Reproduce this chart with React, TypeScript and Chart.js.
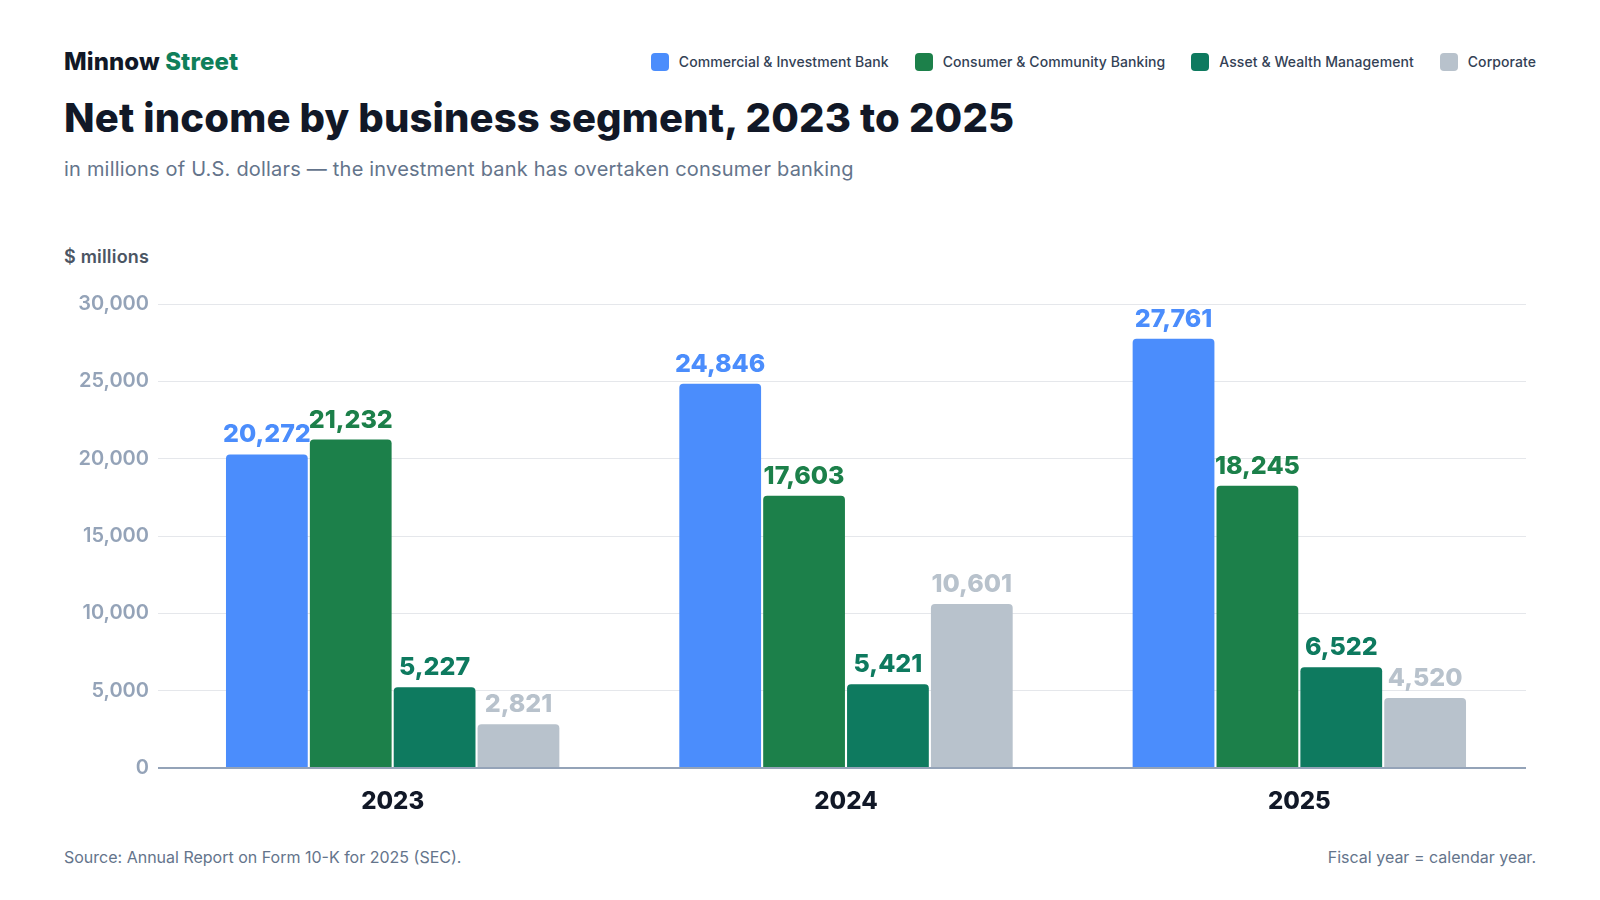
import React, { useEffect, useRef } from "react";
import { Chart, registerables } from "chart.js";

Chart.register(...registerables);

const categories = ["2023", "2024", "2025"];
const seriesNames = [
  "Commercial & Investment Bank",
  "Consumer & Community Banking",
  "Asset & Wealth Management",
  "Corporate",
];
const cibValues = [20272, 24846, 27761];
const ccbValues = [21232, 17603, 18245];
const awmValues = [5227, 5421, 6522];
const corpValues = [2821, 10601, 4520];
const seriesColors = ["#4b8dfc", "#1c804a", "#0e7a5f", "#b8c2cc"];
const yMax = 30000;
const yStep = 5000;

const FONT = "Inter, 'Noto Sans', sans-serif";

const fmt = (v: number) => v.toLocaleString("en-US");

const barLabels = {
  id: "barLabels",
  afterDatasetsDraw(chart: any) {
    const ctx = chart.ctx;
    ctx.save();
    ctx.font = `800 25px ${FONT}`;
    ctx.textAlign = "center";
    ctx.textBaseline = "alphabetic";
    chart.data.datasets.forEach((ds: any, di: number) => {
      const meta = chart.getDatasetMeta(di);
      meta.data.forEach((bar: any, i: number) => {
        ctx.fillStyle = ds.backgroundColor;
        ctx.fillText(fmt(ds.data[i]), bar.x, bar.y - 12);
      });
    });
    ctx.restore();
  },
};

export default function App() {
  const ref = useRef<HTMLCanvasElement>(null);

  useEffect(() => {
    document.body.style.margin = "0";
    const allValues = [cibValues, ccbValues, awmValues, corpValues];
    const chart = new Chart(ref.current!, {
      type: "bar",
      data: {
        labels: categories,
        datasets: allValues.map((vals, i) => ({
          label: seriesNames[i],
          data: vals,
          backgroundColor: seriesColors[i],
          borderRadius: { topLeft: 4, topRight: 4, bottomLeft: 0, bottomRight: 0 },
          borderSkipped: "bottom",
          categoryPercentage: 0.74,
          barPercentage: 0.975,
        })),
      },
      options: {
        animation: false,
        responsive: false,
        devicePixelRatio: 1,
        layout: { padding: { top: 33, right: 74, left: 0, bottom: 0 } },
        plugins: {
          legend: { display: false },
          tooltip: { enabled: false },
          title: { display: false },
        },
        scales: {
          x: {
            grid: { display: false },
            border: { display: false },
            ticks: {
              color: "#111827",
              font: { family: FONT, size: 24, weight: "800" },
              padding: 11,
            },
            afterFit: (s: any) => {
              s.height = 63;
            },
          },
          y: {
            min: 0,
            max: yMax,
            border: { display: false },
            grid: {
              color: (c: any) => (c.tick && c.tick.value === 0 ? "#94a3b8" : "#e5e7eb"),
              lineWidth: (c: any) => (c.tick && c.tick.value === 0 ? 2 : 1),
              drawTicks: true,
              tickLength: 8,
            },
            ticks: {
              stepSize: yStep,
              color: "#94a3b8",
              font: { family: FONT, size: 20, weight: "600" },
              padding: 9,
              callback: (v: any) => fmt(Number(v)),
            },
            afterFit: (s: any) => {
              s.width = 166;
            },
          },
        },
      },
      plugins: [barLabels],
    });
    return () => chart.destroy();
  }, []);

  return (
    <div
      style={{
        position: "absolute",
        left: 0,
        top: 0,
        width: 1600,
        height: 900,
        background: "#ffffff",
        fontFamily: FONT,
        overflow: "hidden",
      }}
    >
      <div
        style={{
          position: "absolute",
          left: 64,
          top: 48,
          fontSize: 24,
          lineHeight: "28px",
          fontWeight: 800,
          letterSpacing: "0.1px",
          color: "#111827",
        }}
      >
        Minnow <span style={{ color: "#0f7f5a" }}>Street</span>
      </div>
      <div
        style={{
          position: "absolute",
          right: 64,
          top: 53,
          display: "flex",
          alignItems: "center",
          gap: 26,
        }}
      >
        {seriesNames.map((n, i) => (
          <div key={n} style={{ display: "flex", alignItems: "center", gap: 10 }}>
            <div
              style={{
                width: 18,
                height: 18,
                borderRadius: 4,
                background: seriesColors[i],
              }}
            />
            <span
              style={{
                fontSize: 14,
                lineHeight: "18px",
                fontWeight: 500,
                letterSpacing: "0.07px",
                color: "#334155",
              }}
            >
              {n}
            </span>
          </div>
        ))}
      </div>
      <div
        style={{
          position: "absolute",
          left: 64,
          top: 96,
          fontSize: 40,
          lineHeight: "44px",
          fontWeight: 800,
          letterSpacing: "0.15px",
          color: "#111827",
        }}
      >
        Net income by business segment, 2023 to 2025
      </div>
      <div
        style={{
          position: "absolute",
          left: 64,
          top: 157,
          fontSize: 20,
          lineHeight: "24px",
          fontWeight: 400,
          letterSpacing: "0.2px",
          color: "#64748b",
        }}
      >
        in millions of U.S. dollars — the investment bank has overtaken consumer banking
      </div>
      <div
        style={{
          position: "absolute",
          left: 64,
          top: 246,
          fontSize: 18,
          lineHeight: "22px",
          fontWeight: 600,
          letterSpacing: "0.2px",
          color: "#4b5563",
        }}
      >
        $ millions
      </div>
      <canvas
        ref={ref}
        width={1600}
        height={560}
        style={{ position: "absolute", left: 0, top: 271, width: 1600, height: 560 }}
      />
      <div
        style={{
          position: "absolute",
          left: 64,
          top: 847,
          fontSize: 16,
          lineHeight: "20px",
          color: "#64748b",
        }}
      >
        Source: Annual Report on Form 10-K for 2025 (SEC).
      </div>
      <div
        style={{
          position: "absolute",
          right: 64,
          top: 847,
          fontSize: 16,
          lineHeight: "20px",
          color: "#64748b",
        }}
      >
        Fiscal year = calendar year.
      </div>
    </div>
  );
}
